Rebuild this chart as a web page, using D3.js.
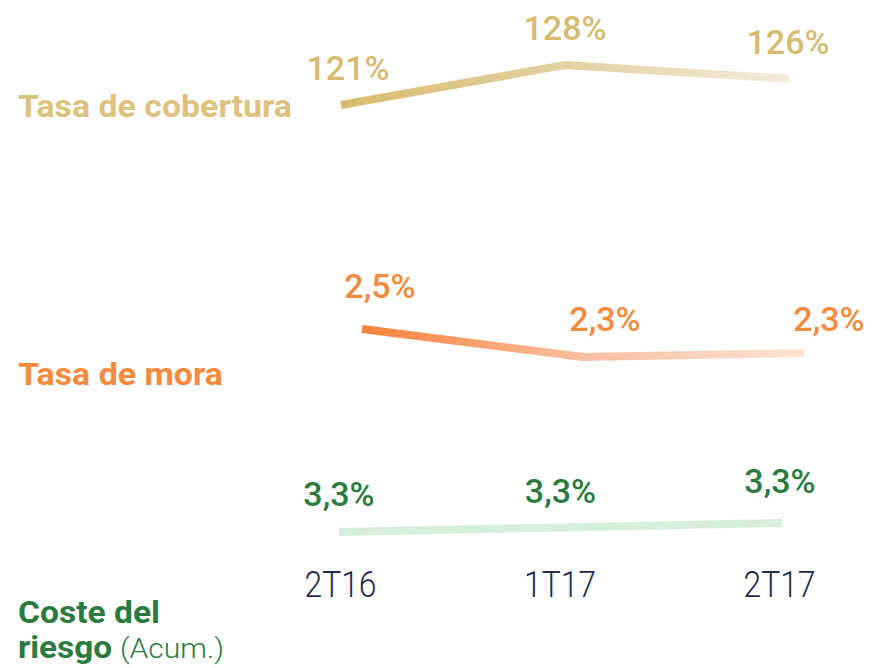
<!DOCTYPE html>
<html>
<head>
<meta charset="utf-8">
<script src="https://cdn.jsdelivr.net/npm/d3@7"></script>
<style>
  html, body { margin: 0; padding: 0; background: #fff; }
  svg { display: block; }
  text { font-family: Roboto, "Noto Sans", sans-serif; }
</style>
</head>
<body>
<svg id="chart" width="873" height="668"></svg>
<script>
// Quarters on the horizontal axis
const categories = ["2T16", "1T17", "2T17"];

// Risk indicators per quarter (percent)
const cobertura = [121, 128, 125.6];
const mora = [2.48, 2.27, 2.30];
const costeRiesgo = [3.27, 3.29, 3.31];

// Series titles
const titleCobertura = ["Tasa de cobertura"];
const titleMora = ["Tasa de mora"];
const titleCoste = ["Coste del", "riesgo"];
const titleCosteNote = "(Acum.)";

const svg = d3.select("#chart");

const fmtInt = v => d3.format(".0f")(v) + "%";
const fmtDec = v => d3.format(".1f")(v).replace(".", ",") + "%";

// Each band has its own vertical scale and a slightly shifted horizontal span
const series = [
  {
    id: "cob", values: cobertura, fmt: fmtInt,
    xRange: [341, 789], yRange: [105, 65],
    text: "#d7bb70", stops: ["#d8bb6d", "#e4d1a2", "#f4ecdc"],
    labelDx: [7, 0, -1], labelDy: [-25, -25, -25],
    title: titleCobertura, titleColor: "#dcc27d", titleY: 117, titleW: [274]
  },
  {
    id: "mor", values: mora, fmt: fmtDec,
    xRange: [362, 804], yRange: [357, 329],
    text: "#f5893c", stops: ["#f5823a", "#f9bfa0", "#fde4d5"],
    labelDx: [18, 22, 25], labelDy: [-31, -26, -22],
    title: titleMora, titleColor: "#f58a3d", titleY: 385, titleW: [205]
  },
  {
    id: "cos", values: costeRiesgo, fmt: fmtDec,
    xRange: [339, 782], yRange: [532, 523],
    text: "#2b7b3f", stops: ["#d7eedc", "#d7eedc", "#d7eedc"],
    labelDx: [0, 0, -2], labelDy: [-26, -25, -30],
    title: titleCoste, titleColor: "#2b7b3f", titleY: 623, titleW: [142, 94]
  }
];

const defs = svg.append("defs");

series.forEach(s => {
  const x = d3.scalePoint().domain(categories).range(s.xRange);
  const y = d3.scaleLinear().domain(d3.extent(s.values)).range(s.yRange);

  const grad = defs.append("linearGradient")
    .attr("id", "grad-" + s.id)
    .attr("gradientUnits", "userSpaceOnUse")
    .attr("x1", s.xRange[0]).attr("x2", s.xRange[1])
    .attr("y1", 0).attr("y2", 0);
  grad.selectAll("stop").data(s.stops).join("stop")
    .attr("offset", (d, i) => i / (s.stops.length - 1))
    .attr("stop-color", d => d);

  const pts = categories.map((c, i) => [x(c), y(s.values[i])]);

  svg.append("path")
    .datum(pts)
    .attr("d", d3.line())
    .attr("fill", "none")
    .attr("stroke", `url(#grad-${s.id})`)
    .attr("stroke-width", 8)
    .attr("stroke-linejoin", "miter")
    .attr("stroke-linecap", "butt");

  svg.append("g").selectAll("text").data(s.values).join("text")
    .attr("x", (d, i) => x(categories[i]) + s.labelDx[i])
    .attr("y", (d, i) => y(d) + s.labelDy[i])
    .attr("text-anchor", "middle")
    .attr("font-size", 34)
    .attr("font-weight", 500)
    .attr("fill", s.text)
    .text(d => s.fmt(d));

  // series title on the left
  s.title.forEach((t, i) => {
    svg.append("text")
      .attr("x", 18)
      .attr("y", s.titleY + i * 35)
      .attr("font-size", 32)
      .attr("font-weight", 700)
      .attr("fill", s.titleColor)
      .attr("textLength", s.titleW[i])
      .attr("lengthAdjust", "spacingAndGlyphs")
      .text(t);
  });
});

svg.append("text")
  .attr("x", 120)
  .attr("y", 658)
  .attr("font-size", 27)
  .attr("font-weight", 300)
  .attr("fill", "#2b7b3f")
  .attr("textLength", 104)
  .attr("lengthAdjust", "spacingAndGlyphs")
  .text(titleCosteNote);

// Category axis
const xAxis = d3.scalePoint().domain(categories).range([340, 779]);
const axis = svg.append("g")
  .attr("transform", "translate(0,570)")
  .call(d3.axisBottom(xAxis).tickSize(0).tickPadding(0));
axis.select(".domain").remove();
axis.selectAll("text")
  .attr("dy", 27)
  .attr("font-size", 37)
  .attr("font-weight", 300)
  .attr("font-family", "Roboto, sans-serif")
  .attr("fill", "#1d2b4f")
  .attr("textLength", 72)
  .attr("lengthAdjust", "spacingAndGlyphs");
</script>
</body>
</html>
